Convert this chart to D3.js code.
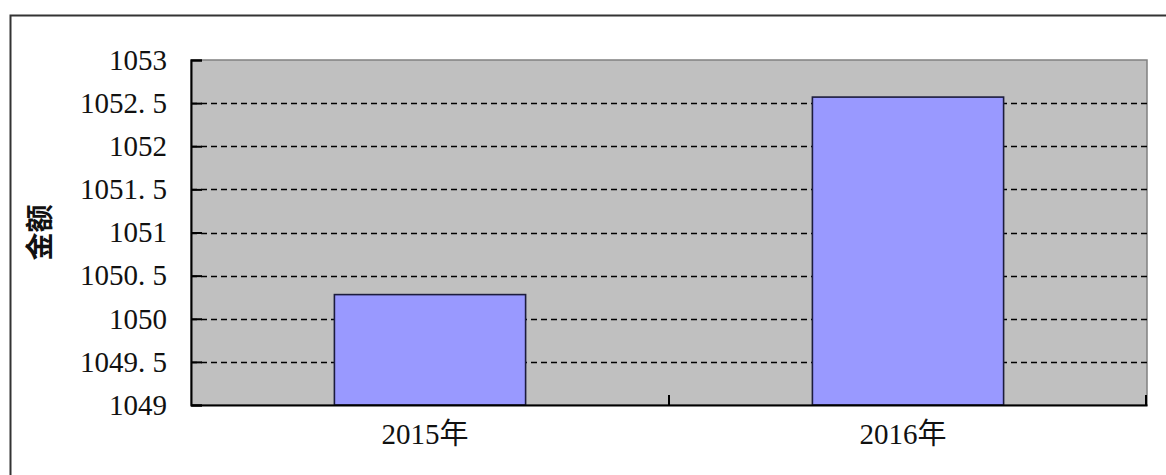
<!DOCTYPE html>
<html>
  <head>
    <meta charset="utf-8">
    <title>金额</title>
    <style>
      body { margin: 0; background: #fff; }
    </style>
  </head>
  <body>
    <script src="https://cdn.jsdelivr.net/npm/d3@7"></script>
    <script type="text/javascript">
      var categories = ["2015年", "2016年"];
      var values = [1050.28, 1052.57];
      var yTicks = [1049, 1049.5, 1050, 1050.5, 1051, 1051.5, 1052, 1052.5, 1053];
      var yTitle = "金额";

      var width = 1166;
      var height = 475;
      var plot = { left: 191, top: 60, right: 1147, bottom: 405 };
      var serif = "'Liberation Serif', 'Noto Sans CJK SC', serif";

      var svg = d3.select("body")
                  .append("svg")
                  .attr("width", width)
                  .attr("height", height);

      // outer chart frame
      svg.append("rect")
         .attr("x", 10.5).attr("y", 15.5)
         .attr("width", width).attr("height", height)
         .attr("fill", "none")
         .attr("stroke", "#333")
         .attr("stroke-width", 2);

      var x = d3.scaleBand()
                .domain(categories)
                .range([plot.left, plot.right])
                .paddingInner(0.6)
                .paddingOuter(0.3);

      var xOuter = d3.scaleBand()
                     .domain(categories)
                     .range([plot.left, plot.right]);

      var y = d3.scaleLinear()
                .domain([1049, 1053])
                .range([plot.bottom, plot.top]);

      // plot background
      svg.append("rect")
         .attr("x", plot.left).attr("y", plot.top)
         .attr("width", plot.right - plot.left)
         .attr("height", plot.bottom - plot.top)
         .attr("fill", "#c0c0c0")
         .attr("stroke", "#808080")
         .attr("stroke-width", 1.5);

      // dashed gridlines
      svg.append("g")
         .selectAll("line")
         .data(yTicks.slice(1, -1))
         .join("line")
         .attr("x1", plot.left).attr("x2", plot.right)
         .attr("y1", function(d) { return Math.round(y(d)) + 0.5; })
         .attr("y2", function(d) { return Math.round(y(d)) + 0.5; })
         .attr("stroke", "#000")
         .attr("stroke-width", 1.3)
         .attr("stroke-dasharray", "6,4");

      // bars
      svg.append("g")
         .selectAll("rect")
         .data(values)
         .join("rect")
         .attr("x", function(d, i) { return x(categories[i]); })
         .attr("y", function(d) { return y(d); })
         .attr("width", x.bandwidth())
         .attr("height", function(d) { return y(1049) - y(d); })
         .attr("fill", "#9999ff")
         .attr("stroke", "#1c1c3c")
         .attr("stroke-width", 1.6);

      // y axis
      var yAxis = d3.axisLeft(y)
                    .tickValues(yTicks)
                    .tickSize(-11)
                    .tickPadding(24)
                    .tickFormat(function(d) {
                      return d3.format("")(d).replace(".", ". ");
                    });

      var gy = svg.append("g")
                  .attr("transform", "translate(" + plot.left + ",0)")
                  .call(yAxis);
      gy.select(".domain").attr("stroke", "#000").attr("stroke-width", 2);
      gy.selectAll(".tick line").attr("stroke", "#000").attr("stroke-width", 2);
      gy.selectAll(".tick text")
        .attr("fill", "#111")
        .style("font-family", serif)
        .style("font-size", "29px");

      // x axis
      var xAxis = d3.axisBottom(xOuter)
                    .tickSize(0)
                    .tickPadding(18);

      var gx = svg.append("g")
                  .attr("transform", "translate(0," + plot.bottom + ")")
                  .call(xAxis);
      gx.select(".domain").attr("stroke", "#000").attr("stroke-width", 2);
      gx.selectAll(".tick text")
        .attr("fill", "#111")
        .attr("dx", -5)
        .style("font-family", serif)
        .style("font-size", "29px");

      // category separator ticks
      gx.append("g")
        .selectAll("line")
        .data(categories.slice(1).concat(["end"]))
        .join("line")
        .attr("x1", function(d) { return d === "end" ? plot.right - 1 : xOuter(d); })
        .attr("x2", function(d) { return d === "end" ? plot.right - 1 : xOuter(d); })
        .attr("y1", 0).attr("y2", -10)
        .attr("stroke", "#000")
        .attr("stroke-width", 2);

      // y title
      svg.append("text")
         .attr("transform", "translate(50," + ((plot.top + plot.bottom) / 2) + ") rotate(-90)")
         .attr("text-anchor", "middle")
         .style("font-family", "'Noto Sans CJK SC', sans-serif")
         .style("font-weight", "bold")
         .style("font-size", "28px")
         .attr("fill", "#111")
         .text(yTitle);
    </script>
  </body>
</html>
